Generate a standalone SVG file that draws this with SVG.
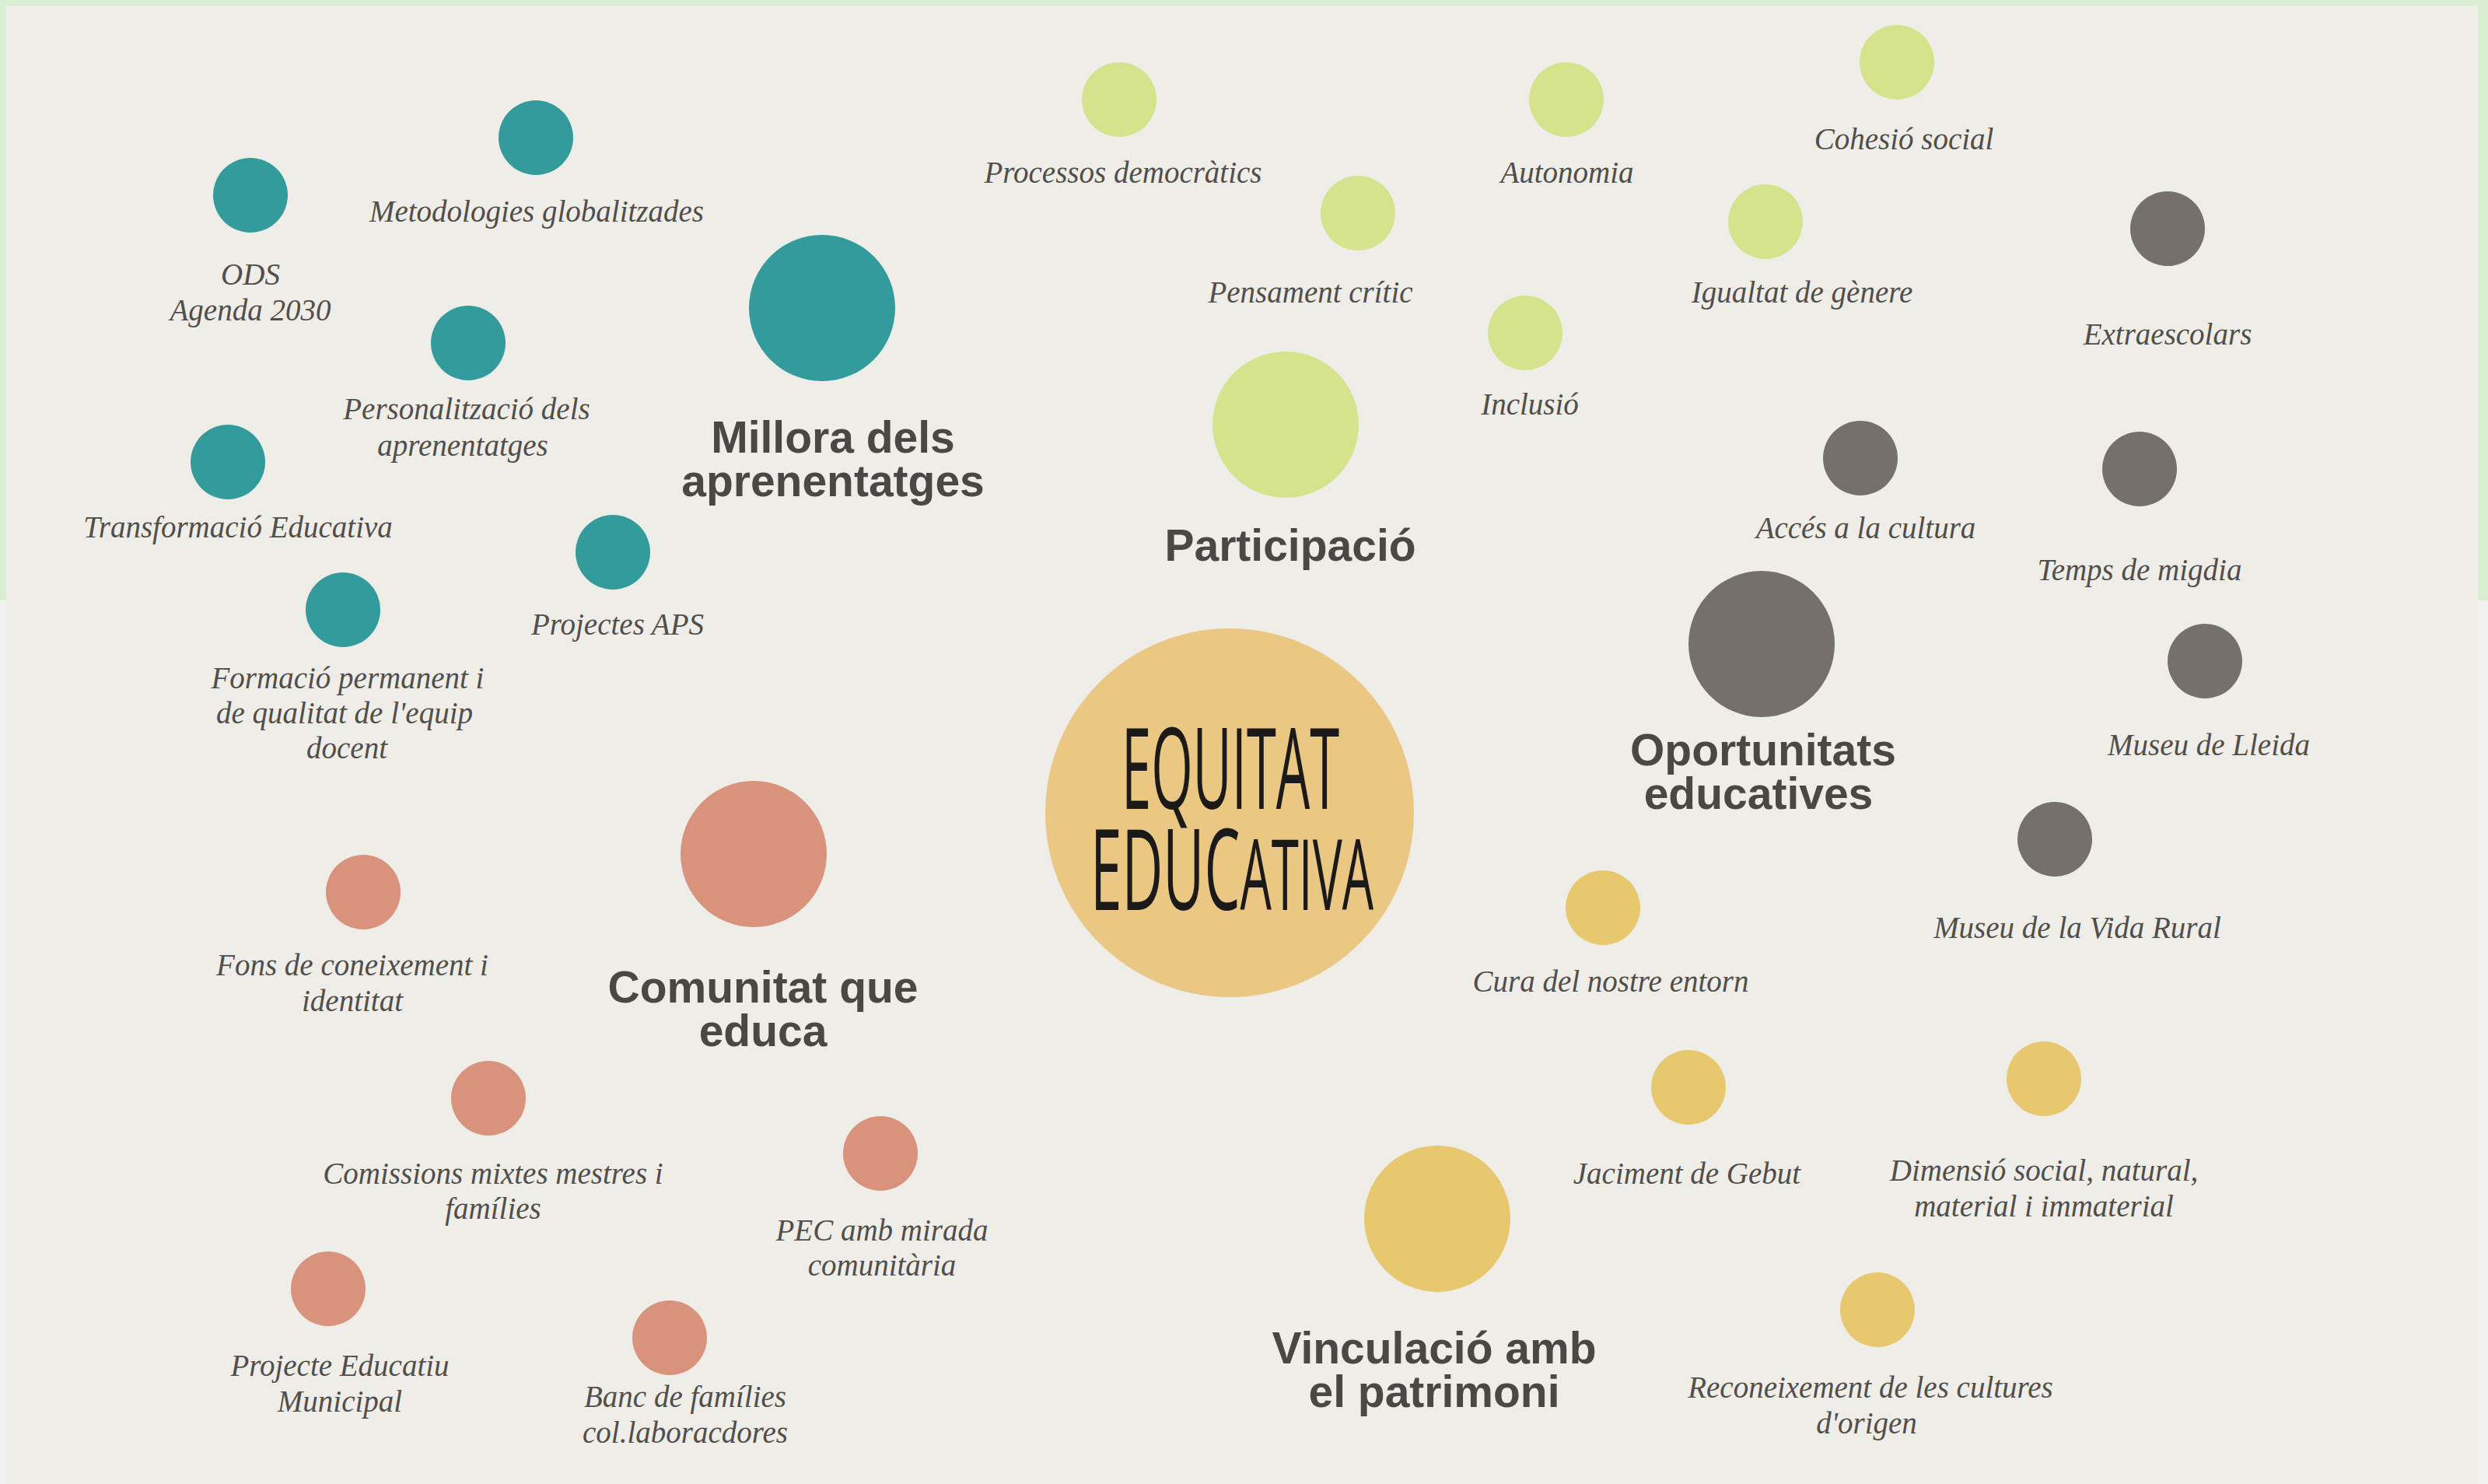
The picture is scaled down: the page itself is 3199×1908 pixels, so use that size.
<svg xmlns="http://www.w3.org/2000/svg" width="3199" height="1908" viewBox="0 0 3199 1908">
<style>
.teal{fill:#339b9c}
.lime{fill:#d4e38c}
.grey{fill:#75706b}
.gold{fill:#e8c86f}
.salmon{fill:#d9937d}
.core{fill:#eac783}
.lbl{font-family:"Liberation Serif","Times New Roman",serif;font-style:italic;font-size:39px;fill:#524e4a;text-anchor:middle}
.ttl{font-family:"Liberation Sans",Arial,sans-serif;font-weight:bold;font-size:57px;fill:#4a4744;text-anchor:middle}
.ctr{font-family:"Open Sans","DejaVu Sans",sans-serif;font-weight:400;fill:#1c1a18}
</style>
<rect x="0" y="0" width="3199" height="1908" fill="#f1f2f0"/>
<rect x="0" y="0" width="3199" height="772" fill="#d9eed3"/>
<rect x="8" y="7" width="3178" height="1901" fill="#eeede8"/>
<g id="connectors"/>

<g id="core">
<circle class="core" cx="1581" cy="1045" r="237"/>
<text class="ctr" font-size="144"><tspan x="1442" y="1040" textLength="280" lengthAdjust="spacingAndGlyphs">EQUITAT</tspan><tspan x="1402" y="1170" textLength="364" lengthAdjust="spacingAndGlyphs">EDUC<tspan font-size="126">ATIVA</tspan></tspan></text>
</g>

<!-- Millora dels aprenentatges -->
<g id="millora">
<circle class="teal" cx="1057" cy="396" r="94"/>
<text class="ttl" x="1071" y="582">Millora dels</text>
<text class="ttl" x="1071" y="638">aprenentatges</text>
</g>
<g id="ods"><circle class="teal" cx="322" cy="251" r="48"/><text class="lbl" x="322" y="366">ODS</text><text class="lbl" x="322" y="412">Agenda 2030</text></g>
<g id="metodologies"><circle class="teal" cx="689" cy="177" r="48"/><text class="lbl" x="690" y="285">Metodologies globalitzades</text></g>
<g id="personalitzacio"><circle class="teal" cx="602" cy="441" r="48"/><text class="lbl" x="600" y="539">Personalització dels</text><text class="lbl" x="595" y="586">aprenentatges</text></g>
<g id="transformacio"><circle class="teal" cx="293" cy="594" r="48"/><text class="lbl" x="306" y="691">Transformació Educativa</text></g>
<g id="aps"><circle class="teal" cx="788" cy="710" r="48"/><text class="lbl" x="794" y="816">Projectes APS</text></g>
<g id="formacio"><circle class="teal" cx="441" cy="784" r="48"/><text class="lbl" x="447" y="885">Formació permanent i</text><text class="lbl" x="443" y="930">de qualitat de l'equip</text><text class="lbl" x="446" y="975">docent</text></g>

<!-- Participació -->
<g id="participacio">
<circle class="lime" cx="1653" cy="546" r="94"/>
<text class="ttl" x="1659" y="721">Participació</text>
</g>
<g id="processos"><circle class="lime" cx="1439" cy="128" r="48"/><text class="lbl" x="1444" y="235">Processos democràtics</text></g>
<g id="autonomia"><circle class="lime" cx="2014" cy="128" r="48"/><text class="lbl" x="2015" y="235">Autonomia</text></g>
<g id="cohesio"><circle class="lime" cx="2439" cy="80" r="48"/><text class="lbl" x="2448" y="192">Cohesió social</text></g>
<g id="pensament"><circle class="lime" cx="1746" cy="274" r="48"/><text class="lbl" x="1685" y="389">Pensament crític</text></g>
<g id="igualtat"><circle class="lime" cx="2270" cy="285" r="48"/><text class="lbl" x="2317" y="389">Igualtat de gènere</text></g>
<g id="inclusio"><circle class="lime" cx="1961" cy="428" r="48"/><text class="lbl" x="1967" y="533">Inclusió</text></g>

<!-- Oportunitats educatives -->
<g id="oportunitats">
<circle class="grey" cx="2265" cy="828" r="94"/>
<text class="ttl" x="2267" y="984">Oportunitats</text>
<text class="ttl" x="2261" y="1040">educatives</text>
</g>
<g id="extraescolars"><circle class="grey" cx="2787" cy="294" r="48"/><text class="lbl" x="2787" y="443">Extraescolars</text></g>
<g id="acces"><circle class="grey" cx="2392" cy="589" r="48"/><text class="lbl" x="2399" y="692">Accés a la cultura</text></g>
<g id="migdia"><circle class="grey" cx="2751" cy="603" r="48"/><text class="lbl" x="2751" y="746">Temps de migdia</text></g>
<g id="lleida"><circle class="grey" cx="2835" cy="850" r="48"/><text class="lbl" x="2840" y="971">Museu de Lleida</text></g>
<g id="vidarural"><circle class="grey" cx="2642" cy="1079" r="48"/><text class="lbl" x="2671" y="1206">Museu de la Vida Rural</text></g>

<!-- Vinculació amb el patrimoni -->
<g id="vinculacio">
<circle class="gold" cx="1848" cy="1567" r="94"/>
<text class="ttl" x="1844" y="1753">Vinculació amb</text>
<text class="ttl" x="1844" y="1809">el patrimoni</text>
</g>
<g id="cura"><circle class="gold" cx="2061" cy="1167" r="48"/><text class="lbl" x="2071" y="1275">Cura del nostre entorn</text></g>
<g id="gebut"><circle class="gold" cx="2171" cy="1398" r="48"/><text class="lbl" x="2169" y="1522">Jaciment de Gebut</text></g>
<g id="dimensio"><circle class="gold" cx="2628" cy="1387" r="48"/><text class="lbl" x="2628" y="1518">Dimensió social, natural,</text><text class="lbl" x="2628" y="1564">material i immaterial</text></g>
<g id="reconeixement"><circle class="gold" cx="2414" cy="1684" r="48"/><text class="lbl" x="2405" y="1797">Reconeixement de les cultures</text><text class="lbl" x="2400" y="1843">d'origen</text></g>

<!-- Comunitat que educa -->
<g id="comunitat">
<circle class="salmon" cx="969" cy="1098" r="94"/>
<text class="ttl" x="981" y="1289">Comunitat que</text>
<text class="ttl" x="981" y="1345">educa</text>
</g>
<g id="fons"><circle class="salmon" cx="467" cy="1147" r="48"/><text class="lbl" x="453" y="1254">Fons de coneixement i</text><text class="lbl" x="453" y="1300">identitat</text></g>
<g id="comissions"><circle class="salmon" cx="628" cy="1412" r="48"/><text class="lbl" x="634" y="1522">Comissions mixtes mestres i</text><text class="lbl" x="634" y="1567">famílies</text></g>
<g id="pec"><circle class="salmon" cx="1132" cy="1483" r="48"/><text class="lbl" x="1134" y="1595">PEC amb mirada</text><text class="lbl" x="1134" y="1640">comunitària</text></g>
<g id="pem"><circle class="salmon" cx="422" cy="1657" r="48"/><text class="lbl" x="437" y="1769">Projecte Educatiu</text><text class="lbl" x="437" y="1815">Municipal</text></g>
<g id="banc"><circle class="salmon" cx="861" cy="1720" r="48"/><text class="lbl" x="881" y="1809">Banc de famílies</text><text class="lbl" x="881" y="1855">col.laboracdores</text></g>
</svg>
